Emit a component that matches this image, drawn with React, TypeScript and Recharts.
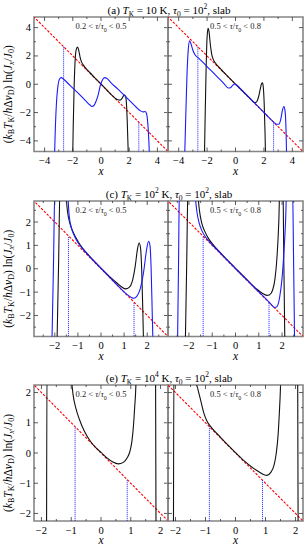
import React from "react";
import { LineChart, Line, XAxis, YAxis, ReferenceArea } from "recharts";

const FONT = '"Liberation Serif", "DejaVu Serif", serif';
const FRAME = "#858585";
const BLACK = "#111111";
const BLUE = "#1a1aff";
const RED = "#ff0000";

// ---- row (a): T_K = 10 K ----
const A_DOMAIN = [-4.75, 4.75];
const A_TICKS = [-4, -3, -2, -1, 0, 1, 2, 3, 4];
const A_LABELS = [-4, -2, 0, 2, 4];
const A_LEFT_BLACK = [[-2.02, -6], [-1.97, -3], [-1.9, 0], [-1.82, 1.9], [-1.74, 2.5], [-1.66, 2.62], [-1.58, 2.4], [-1.48, 1.9], [-1.38, 1.58], [-1.25, 1.35], [-1.1, 1.15], [-0.8, 0.83], [-0.4, 0.42], [0, 0.02], [0.4, -0.4], [0.8, -0.8], [1.05, -1.02], [1.2, -1.1], [1.35, -1.12], [1.48, -1.02], [1.58, -0.84], [1.67, -0.76], [1.74, -0.85], [1.8, -1.3], [1.86, -2.6], [1.92, -4.5], [1.96, -6]];
const A_LEFT_BLUE = [[-3.32, -6], [-3.25, -3.5], [-3.15, -1.2], [-3.05, -0.1], [-2.95, 0.35], [-2.82, 0.47], [-2.65, 0.35], [-2.2, -0.08], [-1.6, -0.65], [-1.1, -1.15], [-0.8, -1.45], [-0.64, -1.57], [-0.5, -1.5], [-0.35, -1.2], [-0.2, -0.75], [-0.05, -0.1], [0.1, 0.3], [0.25, 0.47], [0.4, 0.42], [0.7, 0.12], [1.2, -0.35], [1.8, -0.93], [2.3, -1.42], [2.6, -1.72], [2.8, -1.88], [3.0, -1.95], [3.12, -1.92], [3.22, -2.05], [3.32, -2.8], [3.4, -4.2], [3.47, -6]];
const A_LEFT_DOTS = [-2.65, 2.68];
const A_RIGHT_BLACK = [[-2.2, -6], [-2.14, -2.5], [-2.07, 1], [-2.0, 3.3], [-1.93, 3.95], [-1.86, 3.7], [-1.78, 2.9], [-1.68, 2.15], [-1.55, 1.72], [-1.4, 1.48], [-1.2, 1.24], [-0.8, 0.82], [-0.3, 0.31], [0.2, -0.19], [0.7, -0.69], [1.1, -1.08], [1.35, -1.3], [1.5, -1.22], [1.62, -0.9], [1.74, -0.35], [1.84, 0.05], [1.9, 0.1], [1.96, -0.25], [2.02, -1.4], [2.08, -3.5], [2.13, -6]];
const A_RIGHT_BLUE = [[-3.6, -6], [-3.52, -3], [-3.42, 0.5], [-3.32, 2.5], [-3.23, 3.07], [-3.13, 2.85], [-3.0, 2.4], [-2.85, 2.08], [-2.6, 1.85], [-2.0, 1.25], [-1.4, 0.65], [-0.8, 0.03], [-0.5, -0.27], [-0.35, -0.24], [-0.2, -0.08], [-0.06, 0.02], [0.1, -0.07], [0.4, -0.36], [1.0, -0.98], [1.6, -1.58], [2.2, -2.19], [2.65, -2.64], [2.9, -2.82], [3.05, -2.82], [3.18, -2.5], [3.3, -1.85], [3.4, -1.57], [3.48, -1.85], [3.55, -3.0], [3.62, -6]];
const A_RIGHT_DOTS = [-2.65, 2.68];

// ---- row (c): T_K = 10^2 K ----
const C_DOMAIN = [-2.9, 2.9];
const C_TICKS = [-2.5, -2, -1.5, -1, -0.5, 0, 0.5, 1, 1.5, 2, 2.5];
const C_LABELS = [-2, -1, 0, 1, 2];
const C_LEFT_BLACK = [[-1.92, -4], [-1.84, 0], [-1.76, 4], [-1.6, 4], [-1.53, 3.3], [-1.45, 2.45], [-1.35, 1.95], [-1.2, 1.55], [-1.0, 1.18], [-0.8, 0.88], [-0.5, 0.54], [0, 0.03], [0.4, -0.36], [0.7, -0.62], [0.9, -0.78], [1.07, -0.86], [1.22, -0.8], [1.35, -0.55], [1.48, 0.1], [1.58, 0.85], [1.65, 1.1], [1.71, 0.9], [1.76, 0.0], [1.81, -1.8], [1.86, -4]];
const C_LEFT_BLUE = [[-2.14, -4], [-2.06, 0], [-1.98, 4], [-1.5, 4], [-1.44, 3.2], [-1.38, 2.3], [-1.28, 1.75], [-1.15, 1.4], [-1.0, 1.12], [-0.8, 0.86], [-0.5, 0.53], [0, 0.02], [0.4, -0.39], [0.8, -0.8], [1.1, -1.08], [1.3, -1.22], [1.42, -1.26], [1.55, -1.18], [1.7, -0.85], [1.85, -0.1], [1.97, 0.8], [2.06, 1.18], [2.12, 1.0], [2.17, 0.0], [2.22, -2], [2.27, -4]];
const C_LEFT_DOTS = [-1.41, 1.43];
const C_RIGHT_BLACK = [[-2.17, -4], [-2.1, 0], [-2.03, 4], [-1.7, 4], [-1.63, 3.3], [-1.55, 2.5], [-1.45, 1.95], [-1.32, 1.6], [-1.15, 1.28], [-0.9, 0.96], [-0.5, 0.53], [0, 0.02], [0.5, -0.48], [0.9, -0.86], [1.15, -1.05], [1.35, -1.14], [1.47, -1.11], [1.6, -0.9], [1.7, -0.4], [1.79, 0.6], [1.86, 2.0], [1.92, 4], [2.03, 4], [2.08, 0], [2.13, -4]];
const C_RIGHT_BLUE = [[-2.5, -4], [-2.45, 0], [-2.4, 4], [-1.82, 4], [-1.74, 3.2], [-1.66, 2.45], [-1.56, 1.95], [-1.44, 1.62], [-1.3, 1.38], [-1.1, 1.13], [-0.8, 0.82], [-0.4, 0.41], [0, 0.01], [0.5, -0.49], [1.0, -0.99], [1.35, -1.33], [1.55, -1.55], [1.68, -1.66], [1.78, -1.62], [1.9, -1.2], [2.0, -0.4], [2.08, 0.7], [2.15, 2.0], [2.22, 4], [2.44, 4], [2.5, 0], [2.55, -4]];
const C_RIGHT_DOTS = [-1.39, 1.44];

// ---- row (e): T_K = 10^4 K ----
const E_DOMAIN = [-2.25, 2.25];
const E_TICKS = [-2, -1.5, -1, -0.5, 0, 0.5, 1, 1.5, 2];
const E_LABELS = [-2, -1, 0, 1, 2];
const E_LEFT_BLACK = [[-1.83, -3.5], [-1.81, 3.5], [-1.04, 3.5], [-0.99, 2.45], [-0.94, 1.95], [-0.85, 1.5], [-0.72, 1.1], [-0.55, 0.7], [-0.35, 0.38], [-0.15, 0.15], [0, 0.02], [0.2, -0.16], [0.4, -0.3], [0.58, -0.36], [0.75, -0.31], [0.88, -0.16], [0.97, 0.05], [1.04, 0.4], [1.09, 0.9], [1.13, 1.5], [1.17, 2.2], [1.2, 3.5], [1.83, 3.5], [1.85, -3.5]];
const E_LEFT_DOTS = [-0.87, 0.88];
const E_RIGHT_BLACK = [[-2.07, -3.5], [-2.05, 3.5], [-1.4, 3.5], [-1.33, 2.45], [-1.25, 2.1], [-1.15, 1.7], [-1.05, 1.3], [-0.95, 1.05], [-0.8, 0.84], [-0.5, 0.52], [-0.2, 0.21], [0, 0.01], [0.3, -0.27], [0.55, -0.47], [0.78, -0.62], [0.95, -0.72], [1.05, -0.74], [1.17, -0.65], [1.28, -0.42], [1.36, 0.0], [1.42, 0.6], [1.46, 1.3], [1.5, 2.2], [1.53, 3.5], [2.07, 3.5], [2.09, -3.5]];
const E_RIGHT_DOTS = [-0.87, 0.9];

const RED_LINE = [[-6, 6], [6, -6]];

const pts = (a: number[][]) => a.map(([x, y]) => ({ x, y }));
const fmt = (v: number) => (v < 0 ? "\u2212" + Math.abs(v) : String(v));

const YW = 22;
const XH = 26;
const PAD = 2;

function Panel({ id, left, top, w, h, dom, ticks, labels, showY, black, blue, dots, note }: any) {
  const xTick = (p: any) => {
    const v = p.payload.value;
    const major = labels.includes(v);
    const len = major ? 4 : 2;
    return (
      <g>
        <line x1={p.x} x2={p.x} y1={PAD + h} y2={PAD + h - len} stroke="#333" strokeWidth={0.8} />
        <line x1={p.x} x2={p.x} y1={PAD} y2={PAD + len} stroke="#333" strokeWidth={0.8} />
        {major && (
          <text x={p.x} y={PAD + h + 12.5} textAnchor="middle" fontSize={10.5} fontFamily={FONT} fill="#000">
            {fmt(v)}
          </text>
        )}
      </g>
    );
  };
  const yTick = (p: any) => {
    const v = p.payload.value;
    const major = labels.includes(v);
    const len = major ? 4 : 2;
    return (
      <g>
        <line x1={YW} x2={YW + len} y1={p.y} y2={p.y} stroke="#333" strokeWidth={0.8} />
        <line x1={YW + w} x2={YW + w - len} y1={p.y} y2={p.y} stroke="#333" strokeWidth={0.8} />
        {showY && major && (
          <text x={YW - 3} y={p.y + 3.5} textAnchor="end" fontSize={10.5} fontFamily={FONT} fill="#000">
            {fmt(v)}
          </text>
        )}
      </g>
    );
  };

  return (
    <div style={{ position: "absolute", left: left - YW, top: top - PAD }}>
      <LineChart id={id} width={YW + w + PAD} height={h + XH + PAD} margin={{ top: PAD, right: PAD, bottom: 0, left: 0 }}>
        <XAxis
          dataKey="x"
          type="number"
          domain={dom}
          ticks={ticks}
          interval={0}
          allowDataOverflow
          axisLine={false}
          tickLine={false}
          tickSize={0}
          tick={xTick}
          height={XH}
          label={{ value: "x", position: "insideBottom", offset: 3, fontSize: 11.5, fontStyle: "italic", fontFamily: FONT, fill: "#000" }}
        />
        <YAxis
          type="number"
          domain={dom}
          ticks={ticks}
          interval={0}
          allowDataOverflow
          axisLine={false}
          tickLine={false}
          tickSize={0}
          tick={yTick}
          width={YW}
        />
        <Line key="red" name="red" data={pts(RED_LINE)} dataKey="y" type="linear" stroke={RED} strokeOpacity={1} strokeWidth={1.1} strokeDasharray="2.5 1.5" dot={false} isAnimationActive={false} />
        {dots.map((d: number, i: number) => (
          <Line key={"dot" + i} name={"dot" + i} data={pts([[d, dom[0] - 1], [d, -d]])} dataKey="y" type="linear" stroke={BLUE} strokeWidth={1} strokeDasharray="1 1" dot={false} isAnimationActive={false} />
        ))}
        {black && <Line key="black" name="black" data={pts(black)} dataKey="y" type="monotone" stroke={BLACK} strokeWidth={1.1} dot={false} isAnimationActive={false} />}
        {blue && <Line key="blue" name="blue" data={pts(blue)} dataKey="y" type="monotone" stroke={BLUE} strokeWidth={1.1} dot={false} isAnimationActive={false} />}
        <ReferenceArea x1={dom[0]} x2={dom[1]} y1={dom[0]} y2={dom[1]} fill="none" stroke={FRAME} strokeWidth={1.6} ifOverflow="visible" />
      </LineChart>
      <div
        style={{
          position: "absolute",
          left: YW + w / 2,
          top: PAD + 4,
          transform: "translateX(-50%)",
          fontFamily: FONT,
          fontSize: 8.5,
          whiteSpace: "nowrap",
          lineHeight: "10px",
          color: "#222",
        }}
      >
        {note[0]} &lt; <i>τ</i>/<i>τ</i>
        <sub style={{ fontSize: 6 }}>0</sub> &lt; {note[1]}
      </div>
    </div>
  );
}

function Title({ top, tag, exp }: { top: number; tag: string; exp: string | null }) {
  return (
    <div
      style={{
        position: "absolute",
        left: 169,
        top,
        transform: "translateX(-50%)",
        fontFamily: FONT,
        fontSize: 11,
        whiteSpace: "nowrap",
        lineHeight: "12px",
      }}
    >
      ({tag}) <i>T</i>
      <sub style={{ fontSize: 7.5 }}>K</sub> = 10{exp && <sup style={{ fontSize: 7.5 }}>{exp}</sup>} K, <i>τ</i>
      <sub style={{ fontSize: 7.5 }}>0</sub> = 10<sup style={{ fontSize: 7.5 }}>2</sup>, slab
    </div>
  );
}

function YLabel({ top, h }: { top: number; h: number }) {
  const cy = h / 2 + 10;
  return (
    <svg style={{ position: "absolute", left: 0, top }} width={17} height={h + 24}>
      <text transform={`translate(12, ${cy}) rotate(-90)`} textAnchor="middle" fontFamily={FONT} fontSize={11.5} fill="#000">
        <tspan>(</tspan>
        <tspan fontStyle="italic">k</tspan>
        <tspan fontSize={8} dy={2}>B</tspan>
        <tspan fontStyle="italic" dy={-2}>T</tspan>
        <tspan fontSize={8} dy={2}>K</tspan>
        <tspan dy={-2}>/</tspan>
        <tspan fontStyle="italic">h</tspan>
        <tspan>Δ</tspan>
        <tspan fontStyle="italic">ν</tspan>
        <tspan fontSize={8} dy={2}>D</tspan>
        <tspan dy={-2}>) ln(</tspan>
        <tspan fontStyle="italic">J</tspan>
        <tspan fontSize={8} fontStyle="italic" dy={2}>x</tspan>
        <tspan dy={-2}>/</tspan>
        <tspan fontStyle="italic">J</tspan>
        <tspan fontSize={8} dy={2}>0</tspan>
        <tspan dy={-2}>)</tspan>
      </text>
    </svg>
  );
}

const LOW = ["0.2", "0.5"];
const HIGH = ["0.5", "0.8"];

export default function App() {
  const rows = [
    { top: 17, h: 134.5, dom: A_DOMAIN, ticks: A_TICKS, labels: A_LABELS, tag: "a", exp: null,
      L: { black: A_LEFT_BLACK, blue: A_LEFT_BLUE, dots: A_LEFT_DOTS },
      R: { black: A_RIGHT_BLACK, blue: A_RIGHT_BLUE, dots: A_RIGHT_DOTS } },
    { top: 201, h: 135.5, dom: C_DOMAIN, ticks: C_TICKS, labels: C_LABELS, tag: "c", exp: "2",
      L: { black: C_LEFT_BLACK, blue: C_LEFT_BLUE, dots: C_LEFT_DOTS },
      R: { black: C_RIGHT_BLACK, blue: C_RIGHT_BLUE, dots: C_RIGHT_DOTS } },
    { top: 385, h: 136, dom: E_DOMAIN, ticks: E_TICKS, labels: E_LABELS, tag: "e", exp: "4",
      L: { black: E_LEFT_BLACK, blue: null, dots: E_LEFT_DOTS },
      R: { black: E_RIGHT_BLACK, blue: null, dots: E_RIGHT_DOTS } },
  ];
  return (
    <div style={{ position: "absolute", left: 0, top: 0, width: 305, height: 545, background: "#fff", overflow: "hidden" }}>
      {rows.map((r, i) => (
        <React.Fragment key={i}>
          <Title top={r.top - 16} tag={r.tag} exp={r.exp} />
          <YLabel top={r.top} h={r.h} />
          <Panel id={"p" + i + "l"} left={34} top={r.top} w={134} h={r.h} dom={r.dom} ticks={r.ticks} labels={r.labels} showY {...r.L} note={LOW} />
          <Panel id={"p" + i + "r"} left={168} top={r.top} w={135} h={r.h} dom={r.dom} ticks={r.ticks} labels={r.labels} showY={false} {...r.R} note={HIGH} />
        </React.Fragment>
      ))}
    </div>
  );
}
